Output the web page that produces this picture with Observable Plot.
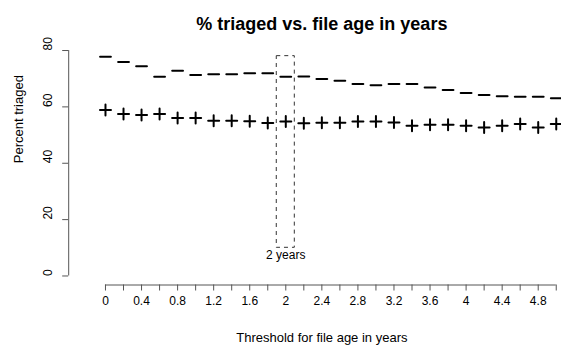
<!DOCTYPE html>
<html><head><meta charset="utf-8">
<script src="https://cdn.jsdelivr.net/npm/d3@7"></script>
<script src="https://cdn.jsdelivr.net/npm/@observablehq/plot@0.6"></script>
<style>html,body{margin:0;padding:0;overflow:hidden;background:#fff;}</style>
</head><body><div id="chart"></div>
<script>
// ---- data ----
const years = [0,0.2,0.4,0.6,0.8,1.0,1.2,1.4,1.6,1.8,2.0,2.2,2.4,2.6,2.8,3.0,3.2,3.4,3.6,3.8,4.0,4.2,4.4,4.6,4.8,5.0];
const seriesDash = [77.8,75.9,74.4,70.7,72.8,71.3,71.6,71.6,71.9,71.9,70.7,70.8,69.9,69.3,68.1,67.7,68.1,68.1,66.9,66.0,64.9,64.2,63.8,63.6,63.6,63.1];
const seriesPlus = [58.9,57.5,57.1,57.5,56.1,56.1,55.1,55.1,54.9,54.3,54.8,54.2,54.4,54.4,54.8,54.8,54.5,53.3,53.7,53.7,53.3,52.7,53.3,53.9,52.7,53.9];
const xTickLabels = ["0","","0.4","","0.8","","1.2","","1.6","","2","","2.4","","2.8","","3.2","","3.6","","4","","4.4","","4.8",""];
const yTicks = [0,20,40,60,80];
const yTickLabels = ["0","20","40","60","80"];
const highlight = [{x1:1.9, x2:2.1, y1:10, y2:78, label:"2 years"}];
const title = "% triaged vs. file age in years";
const xLabel = "Threshold for file age in years";
const yLabel = "Percent triaged";

const rowsDash = years.map((x,i)=>({x, y: seriesDash[i]}));
const rowsPlus = years.map((x,i)=>({x, y: seriesPlus[i]}));

const hline = {draw(ctx, size){const r=Math.sqrt(size/Math.PI); ctx.moveTo(-r,0); ctx.lineTo(r,0);}};
const plus = {draw(ctx, size){const r=Math.sqrt(size/Math.PI); ctx.moveTo(-r,0); ctx.lineTo(r,0); ctx.moveTo(0,-r); ctx.lineTo(0,r);}};

const xDomain = [-0.408, 5.208];
const yDomain = [-3.2, 83.2];
const axisColor = "#555";

const chart = Plot.plot({
  width: 561,
  height: 346,
  marginLeft: 68.2,
  marginRight: -13.5,
  marginTop: 41,
  marginBottom: 61.5,
  style: {fontFamily: "'Liberation Sans', Arial, Helvetica, sans-serif", fontSize: "12px", color: "black", background: "white", overflow: "hidden"},
  x: {domain: xDomain, axis: null},
  y: {domain: yDomain, axis: null},
  marks: [
    // axis lines
    Plot.ruleY([yDomain[0]], {x1: years[0], x2: years[years.length-1], stroke: axisColor}),
    Plot.ruleX([xDomain[0]], {y1: yTicks[0], y2: yTicks[yTicks.length-1], stroke: axisColor}),
    Plot.axisX(years, {anchor: "bottom", tickSize: 6, tickPadding: 5, stroke: axisColor, fill: "black", fontSize: 12,
      tickFormat: d => xTickLabels[Math.round(d/0.2)], label: null}),
    Plot.axisY(yTicks, {anchor: "left", tickSize: 6, stroke: axisColor, tickFormat: () => "", label: null}),
    Plot.text(yTicks, {y: d => d, text: (d,i) => yTickLabels[i], frameAnchor: "left", dx: -20.3, rotate: -90, fontSize: 12, fill: "black"}),
    // highlight box
    Plot.rect(highlight, {x1: "x1", x2: "x2", y1: "y1", y2: "y2", fill: "none", stroke: "#333", strokeDasharray: "4,4", strokeWidth: 1}),
    Plot.text(highlight, {x: d => (d.x1 + d.x2)/2, y: "y1", text: "label", dy: 7, fontSize: 12, fill: "black"}),
    // series
    Plot.dot(rowsDash, {x: "x", y: "y", symbol: hline, r: 5.4, stroke: "black", strokeWidth: 2, fill: "none", strokeLinecap: "round"}),
    Plot.dot(rowsPlus, {x: "x", y: "y", symbol: plus, r: 5.5, stroke: "black", strokeWidth: 2, fill: "none", strokeLinecap: "round"}),
    // titles
    Plot.text([title], {text: d => d, frameAnchor: "top", dy: -24, fontSize: 18, fontWeight: "bold", fill: "black"}),
    Plot.text([xLabel], {text: d => d, frameAnchor: "bottom", dy: 56.5, fontSize: 13, fill: "black"}),
    Plot.text([yLabel], {text: d => d, frameAnchor: "left", dx: -50, rotate: -90, fontSize: 13, fill: "black"})
  ]
});
document.getElementById("chart").appendChild(chart);
</script>
</body></html>
